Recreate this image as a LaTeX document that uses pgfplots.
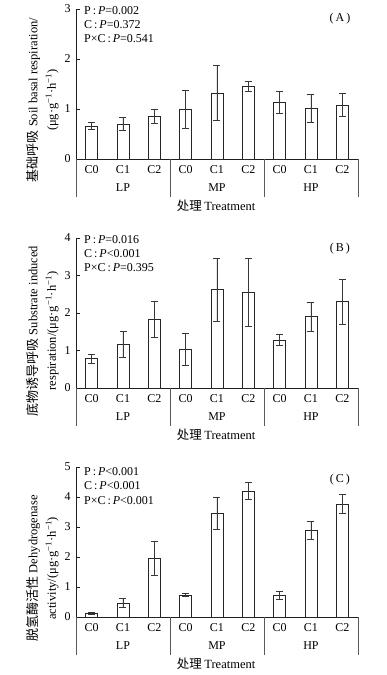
\documentclass[border=0pt,11pt]{standalone}
\usepackage{fontspec}
\setmainfont{Liberation Serif}
\newfontfamily\cjk{Noto Sans CJK SC}
\usepackage{pgfplots}
\pgfplotsset{compat=1.18}
\definecolor{axcol}{gray}{0.12}
\definecolor{barcol}{gray}{0.15}
\definecolor{errcol}{gray}{0.22}
\definecolor{sepcol}{gray}{0.35}
\newcommand{\tf}{\fontsize{12}{14}\selectfont}
\newcommand{\cjkc}{\cjk\fontsize{12.5}{14}\selectfont}
\pgfplotsset{
  panel/.style={
    scale only axis, width=282pt, height=150pt,
    xmin=-0.5, xmax=8.5, ymin=0,
    axis lines*=left,
    axis line style={axcol, line width=0.7pt},
    xtick={0,...,8},
    xticklabels={C0,C1,C2,C0,C1,C2,C0,C1,C2},
    x tick style={draw=none},
    ytick distance=1,
    tick align=inside,
    major tick length=4pt,
    y tick style={axcol, line width=0.7pt},
    clip=false,
    /pgf/number format/assume math mode=true,
    tick label style={font=\tf},
    xticklabel style={yshift=-2.5pt},
    yticklabel style={xshift=-1.5pt},
    ylabel style={align=center, anchor=center, font=\fontsize{12.5}{18.5}\selectfont},
  },
  bars/.style={
    ybar, bar width=12pt, fill=white, draw=barcol, line width=0.7pt,
    error bars/.cd, y dir=both, y explicit,
    error bar style={errcol, line width=0.7pt},
    error mark options={rotate=90, mark size=3.5pt, errcol, line width=0.7pt},
  },
}
\newcommand{\groups}{%
  \draw[sepcol, line width=0.7pt] (axis cs:-0.5,0) -- ++(0pt,-38pt);
  \draw[sepcol, line width=0.7pt] (axis cs:2.5,0) -- ++(0pt,-38pt);
  \draw[sepcol, line width=0.7pt] (axis cs:5.5,0) -- ++(0pt,-38pt);
  \draw[sepcol, line width=0.7pt] (axis cs:8.5,0) -- ++(0pt,-38pt);
  \node[font=\tf] at ([yshift=-29pt]axis cs:1,0) {LP};
  \node[font=\tf] at ([yshift=-29pt]axis cs:4,0) {MP};
  \node[font=\tf] at ([yshift=-29pt]axis cs:7,0) {HP};
  \node[font=\fontsize{12.5}{14}\selectfont] at ([yshift=-47pt]axis cs:3.97,0) {{\cjkc 处理}\kern2.5pt Treatment};
}
\newcommand{\cln}{\,:\,}
\begin{document}
\begin{tikzpicture}
\useasboundingbox (0,0) rectangle (387pt,675pt);
% Panel A
\begin{axis}[panel, at={(76pt,516pt)}, anchor=south west, ymax=3,
  ylabel={{\cjk\fontsize{13}{18.5}\selectfont 基础呼吸} Soil basal respiration/\\(μg·g\textsuperscript{−1}·h\textsuperscript{−1})},
  ylabel style={at={(axis description cs:-0.119,0.393)}}]
\addplot[bars] coordinates {
  (0,0.66) +- (0,0.065)
  (1,0.70) +- (0,0.135)
  (2,0.85) +- (0,0.135)
  (3,0.99) +- (0,0.38)
  (4,1.32) +- (0,0.55)
  (5,1.45) +- (0,0.10)
  (6,1.14) +- (0,0.22)
  (7,1.02) +- (0,0.28)
  (8,1.08) +- (0,0.225)
};
\groups
\node[anchor=north west, align=left, inner sep=0pt, font=\fontsize{12}{14}\selectfont] at (axis description cs:0.028,1.02)
  {P\cln\textit{P}=0.002\\C\cln\textit{P}=0.372\\P×C\cln\textit{P}=0.541};
\node[font=\tf] at (axis description cs:0.936,0.933) {(\,A\,)};
\end{axis}
% Panel B
\begin{axis}[panel, at={(76pt,287pt)}, anchor=south west, ymax=4,
  ylabel={{\cjk\fontsize{13}{18.5}\selectfont 底物诱导呼吸} Substrate induced\\respiration/(μg·g\textsuperscript{−1}·h\textsuperscript{−1})},
  ylabel style={at={(axis description cs:-0.119,0.38)}}]
\addplot[bars] coordinates {
  (0,0.79) +- (0,0.12)
  (1,1.16) +- (0,0.34)
  (2,1.83) +- (0,0.49)
  (3,1.03) +- (0,0.43)
  (4,2.62) +- (0,0.85)
  (5,2.55) +- (0,0.90)
  (6,1.28) +- (0,0.14)
  (7,1.90) +- (0,0.39)
  (8,2.31) +- (0,0.60)
};
\groups
\node[anchor=north west, align=left, inner sep=0pt, font=\fontsize{12}{14}\selectfont] at (axis description cs:0.028,1.015)
  {P\cln\textit{P}=0.016\\C\cln\textit{P}<0.001\\P×C\cln\textit{P}=0.395};
\node[font=\tf] at (axis description cs:0.936,0.926) {(\,B\,)};
\end{axis}
% Panel C
\begin{axis}[panel, at={(76pt,58pt)}, anchor=south west, ymax=5,
  ylabel={{\cjk\fontsize{13}{18.5}\selectfont 脱氢酶活性} Dehydrogenase\\activity/(μg·g\textsuperscript{−1}·h\textsuperscript{−1})},
  ylabel style={at={(axis description cs:-0.119,0.325)}}]
\addplot[bars] coordinates {
  (0,0.12) +- (0,0.02)
  (1,0.47) +- (0,0.14)
  (2,1.95) +- (0,0.56)
  (3,0.73) +- (0,0.05)
  (4,3.45) +- (0,0.53)
  (5,4.20) +- (0,0.28)
  (6,0.72) +- (0,0.12)
  (7,2.88) +- (0,0.30)
  (8,3.77) +- (0,0.33)
};
\groups
\node[anchor=north west, align=left, inner sep=0pt, font=\fontsize{12}{14.5}\selectfont] at (axis description cs:0.028,1.0)
  {P\cln\textit{P}<0.001\\C\cln\textit{P}<0.001\\P×C\cln\textit{P}<0.001};
\node[font=\tf] at (axis description cs:0.936,0.914) {(\,C\,)};
\end{axis}
\end{tikzpicture}
\end{document}
